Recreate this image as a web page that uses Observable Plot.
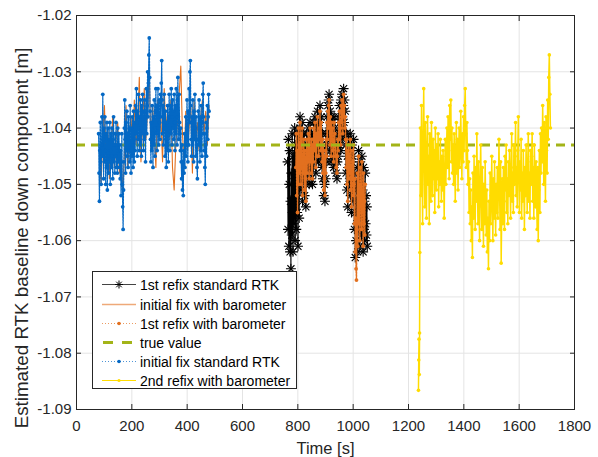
<!DOCTYPE html>
<html><head><meta charset="utf-8">
<script src="https://cdn.jsdelivr.net/npm/d3@7"></script>
<script src="https://cdn.jsdelivr.net/npm/@observablehq/plot@0.6"></script>
<style>
body{margin:0;background:#fff;}
#wrap{position:relative;width:598px;height:457px;font-family:"Liberation Sans",Arial,Helvetica,sans-serif;overflow:hidden;}
#legend{position:absolute;left:92px;top:271px;width:205px;height:118px;background:#fff;border:1px solid #262626;box-sizing:border-box;}
.row{position:absolute;left:0;height:19px;display:flex;align-items:center;}
.row svg{margin-left:9px;}
.row span{margin-left:3px;font-size:14px;color:#000;white-space:nowrap;}
#ylabel{position:absolute;left:22px;top:238px;transform:translate(-50%,-50%) rotate(-90deg);white-space:nowrap;font-size:18.8px;line-height:1;color:#262626;}
</style></head>
<body><div id="wrap"><div id="chart"></div><div id="legend"></div><div id="ylabel"></div></div>
<script>
// ---- data ----
const xTicks = [0, 200, 400, 600, 800, 1000, 1200, 1400, 1600, 1800];
const yTicks = [-1.09, -1.08, -1.07, -1.06, -1.05, -1.04, -1.03, -1.02];
const trueValue = -1.043;
const xLabel = "Time [s]";
const yLabel = "Estimated RTK baseline down component [m]";

// 1st refix standard RTK (start 763 s, every 1.5 s)
const refix1RtkStart = 763, refix1RtkStep = 1.5;
const refix1Rtk = [
 -1.046,-1.058,-1.042,-1.061,-1.050,-1.044,-1.062,-1.053,-1.065,-1.048,
 -1.059,-1.041,-1.055,-1.062,-1.045,-1.057,-1.049,-1.040,-1.060,-1.052,
 -1.043,-1.058,-1.047,-1.055,-1.041,-1.061,-1.050,-1.044,-1.056,-1.040,
 -1.038,-1.045,-1.051,-1.042,-1.048,-1.039,-1.053,-1.044,-1.049,-1.041,
 -1.046,-1.052,-1.043,-1.050,-1.054,-1.045,-1.041,-1.049,-1.043,-1.047,
 -1.040,-1.046,-1.050,-1.042,-1.039,-1.047,-1.043,-1.049,-1.041,-1.045,
 -1.050,-1.042,-1.047,-1.039,-1.045,-1.041,-1.038,-1.044,-1.048,-1.040,
 -1.046,-1.042,-1.037,-1.044,-1.040,-1.046,-1.039,-1.043,-1.036,-1.041,
 -1.045,-1.038,-1.043,-1.047,-1.041,-1.049,-1.044,-1.052,-1.046,-1.050,
 -1.053,-1.045,-1.049,-1.041,-1.046,-1.038,-1.043,-1.036,-1.041,-1.035,
 -1.034,-1.040,-1.044,-1.037,-1.042,-1.046,-1.038,-1.043,-1.039,-1.045,
 -1.041,-1.047,-1.038,-1.044,-1.040,-1.046,-1.042,-1.048,-1.044,-1.049,
 -1.046,-1.041,-1.045,-1.038,-1.043,-1.036,-1.041,-1.039,-1.044,-1.035,
 -1.040,-1.034,-1.038,-1.042,-1.036,-1.033,-1.039,-1.035,-1.041,-1.037,
 -1.043,-1.048,-1.041,-1.051,-1.045,-1.054,-1.047,-1.042,-1.050,-1.044,
 -1.049,-1.041,-1.052,-1.046,-1.055,-1.043,-1.050,-1.045,-1.053,-1.042,
 -1.051,-1.058,-1.048,-1.063,-1.055,-1.060,-1.050,-1.057,-1.047,-1.062,
 -1.053,-1.044,-1.058,-1.049,-1.061,-1.046,-1.055,-1.050,-1.059,-1.045,
 -1.056,-1.051,-1.062,-1.047,-1.058,-1.053,-1.060,-1.048,-1.057,-1.052,
 -1.059,-1.054,-1.061];

// initial fix with barometer (start 83 s, every 6 s)
const initBaroStart = 83, initBaroStep = 6;
const initBaro = [
 -1.044,-1.050,-1.041,-1.036,-1.046,-1.040,-1.049,-1.043,-1.038,-1.047,
 -1.042,-1.039,-1.048,-1.044,-1.052,-1.045,-1.036,-1.047,-1.041,-1.038,
 -1.044,-1.035,-1.043,-1.040,-1.031,-1.046,-1.039,-1.033,-1.042,-1.037,
 -1.030,-1.044,-1.036,-1.041,-1.047,-1.035,-1.042,-1.038,-1.046,-1.033,
 -1.040,-1.037,-1.042,-1.035,-1.047,-1.051,-1.043,-1.039,-1.034,-1.029,
 -1.041,-1.046,-1.037,-1.044,-1.040,-1.036,-1.048,-1.035,-1.042,-1.039,
 -1.044,-1.038,-1.035,-1.041,-1.037,-1.043,-1.036];

// 1st refix with barometer (start 793 s, every 1.5 s)
const refix1BaroStart = 793, refix1BaroStep = 1.5;
const refix1Baro = [
 -1.047,-1.041,-1.052,-1.044,-1.055,-1.046,-1.040,-1.050,-1.043,-1.048,
 -1.039,-1.044,-1.050,-1.041,-1.047,-1.040,-1.052,-1.045,-1.048,-1.042,
 -1.047,-1.051,-1.044,-1.049,-1.053,-1.046,-1.042,-1.048,-1.044,-1.046,
 -1.041,-1.045,-1.049,-1.043,-1.040,-1.046,-1.044,-1.048,-1.042,-1.044,
 -1.049,-1.043,-1.046,-1.040,-1.044,-1.042,-1.039,-1.043,-1.047,-1.041,
 -1.045,-1.041,-1.038,-1.043,-1.041,-1.045,-1.040,-1.042,-1.037,-1.040,
 -1.044,-1.039,-1.042,-1.046,-1.042,-1.048,-1.043,-1.051,-1.045,-1.049,
 -1.052,-1.044,-1.048,-1.042,-1.045,-1.039,-1.042,-1.037,-1.040,-1.036,
 -1.035,-1.039,-1.043,-1.038,-1.041,-1.045,-1.039,-1.042,-1.040,-1.044,
 -1.042,-1.046,-1.039,-1.043,-1.041,-1.045,-1.043,-1.047,-1.045,-1.048,
 -1.045,-1.042,-1.044,-1.039,-1.042,-1.037,-1.040,-1.040,-1.043,-1.036,
 -1.039,-1.035,-1.037,-1.041,-1.037,-1.034,-1.038,-1.036,-1.040,-1.038,
 -1.042,-1.047,-1.042,-1.050,-1.044,-1.053,-1.046,-1.043,-1.049,-1.045,
 -1.048,-1.042,-1.051,-1.047,-1.054,-1.044,-1.049,-1.046,-1.052,-1.043,
 -1.050,-1.057,-1.049,-1.062,-1.056,-1.065,-1.067,-1.058,-1.048,-1.061,
 -1.052,-1.045,-1.057,-1.050,-1.060,-1.047,-1.054,-1.051,-1.058,-1.046,
 -1.055,-1.052,-1.061,-1.048,-1.057,-1.053,-1.059,-1.050];

// initial fix standard RTK (start 80 s, every 1.5 s)
const initRtkStart = 80, initRtkStep = 1.5;
const initRtk = [
 -1.041,-1.048,-1.053,-1.044,-1.039,-1.046,-1.050,-1.043,-1.038,-1.045,
 -1.034,-1.042,-1.049,-1.040,-1.046,-1.038,-1.044,-1.050,-1.041,-1.047,
 -1.039,-1.051,-1.045,-1.040,-1.048,-1.042,-1.046,-1.039,-1.050,-1.044,
 -1.041,-1.047,-1.040,-1.045,-1.049,-1.042,-1.038,-1.046,-1.043,-1.048,
 -1.041,-1.045,-1.039,-1.047,-1.043,-1.048,-1.040,-1.044,-1.046,-1.041,
 -1.047,-1.043,-1.049,-1.044,-1.052,-1.046,-1.041,-1.050,-1.054,-1.058,
 -1.051,-1.046,-1.040,-1.035,-1.042,-1.048,-1.039,-1.044,-1.037,-1.045,
 -1.041,-1.047,-1.038,-1.044,-1.040,-1.046,-1.036,-1.043,-1.048,-1.040,
 -1.045,-1.038,-1.043,-1.047,-1.037,-1.042,-1.046,-1.039,-1.044,-1.036,
 -1.041,-1.033,-1.039,-1.045,-1.037,-1.042,-1.034,-1.040,-1.044,-1.038,
 -1.043,-1.035,-1.040,-1.045,-1.036,-1.041,-1.034,-1.039,-1.044,-1.037,
 -1.042,-1.035,-1.040,-1.046,-1.038,-1.033,-1.041,-1.036,-1.030,-1.038,
 -1.032,-1.027,-1.024,-1.031,-1.037,-1.042,-1.046,-1.039,-1.044,-1.036,
 -1.041,-1.047,-1.038,-1.043,-1.035,-1.040,-1.045,-1.037,-1.033,-1.041,
 -1.036,-1.044,-1.038,-1.033,-1.040,-1.043,-1.035,-1.039,-1.042,-1.034,
 -1.038,-1.032,-1.028,-1.035,-1.041,-1.036,-1.043,-1.038,-1.034,-1.040,
 -1.045,-1.037,-1.042,-1.047,-1.039,-1.044,-1.036,-1.041,-1.046,-1.038,
 -1.034,-1.040,-1.044,-1.036,-1.041,-1.033,-1.038,-1.043,-1.035,-1.040,
 -1.037,-1.042,-1.034,-1.039,-1.044,-1.036,-1.041,-1.033,-1.038,-1.043,
 -1.035,-1.031,-1.038,-1.042,-1.034,-1.039,-1.041,-1.044,-1.040,-1.046,
 -1.049,-1.043,-1.051,-1.046,-1.052,-1.044,-1.048,-1.041,-1.047,-1.043,
 -1.038,-1.045,-1.040,-1.035,-1.042,-1.046,-1.037,-1.043,-1.033,-1.039,
 -1.030,-1.028,-1.036,-1.042,-1.045,-1.038,-1.043,-1.035,-1.040,-1.046,
 -1.037,-1.042,-1.034,-1.040,-1.045,-1.038,-1.043,-1.047,-1.049,-1.042,
 -1.037,-1.043,-1.035,-1.040,-1.046,-1.038,-1.044,-1.036,-1.041,-1.045,
 -1.039,-1.034,-1.032,-1.038,-1.044,-1.041,-1.047,-1.050,-1.043,-1.039,
 -1.045,-1.040,-1.036,-1.042,-1.038,-1.034,-1.037];

// 2nd refix with barometer: first samples (explicit times) then every 2 s from 1243 s
const refix2BaroFirstT = [1236, 1237, 1238, 1239, 1240, 1241];
const refix2BaroFirst = [-1.0866, -1.0812, -1.0775, -1.0838, -1.0764, -1.0621];
const refix2BaroStart = 1243, refix2BaroStep = 2;
const refix2Baro = [
 -1.040,-1.052,-1.036,-1.047,-1.057,-1.042,-1.033,-1.045,-1.054,-1.039,
 -1.048,-1.056,-1.043,-1.038,-1.050,-1.045,-1.057,-1.041,-1.047,-1.053,
 -1.039,-1.046,-1.052,-1.042,-1.049,-1.044,-1.055,-1.040,-1.047,-1.051,
 -1.043,-1.049,-1.041,-1.054,-1.046,-1.050,-1.042,-1.048,-1.053,-1.045,
 -1.051,-1.044,-1.049,-1.056,-1.047,-1.042,-1.050,-1.045,-1.040,-1.047,
 -1.038,-1.044,-1.049,-1.036,-1.042,-1.035,-1.046,-1.040,-1.048,-1.043,
 -1.050,-1.041,-1.046,-1.053,-1.044,-1.039,-1.048,-1.042,-1.051,-1.045,
 -1.040,-1.047,-1.043,-1.037,-1.045,-1.049,-1.041,-1.046,-1.038,-1.044,
 -1.036,-1.033,-1.041,-1.047,-1.039,-1.044,-1.050,-1.046,-1.055,-1.049,
 -1.057,-1.051,-1.060,-1.054,-1.063,-1.048,-1.056,-1.045,-1.052,-1.058,
 -1.047,-1.053,-1.041,-1.050,-1.057,-1.046,-1.054,-1.060,-1.049,-1.043,
 -1.052,-1.058,-1.047,-1.055,-1.061,-1.050,-1.057,-1.046,-1.053,-1.059,
 -1.051,-1.062,-1.056,-1.065,-1.053,-1.060,-1.048,-1.057,-1.052,-1.045,
 -1.054,-1.060,-1.049,-1.056,-1.046,-1.053,-1.059,-1.050,-1.055,-1.047,
 -1.056,-1.051,-1.042,-1.050,-1.058,-1.046,-1.064,-1.055,-1.049,-1.057,
 -1.047,-1.053,-1.058,-1.045,-1.051,-1.043,-1.055,-1.049,-1.057,-1.046,
 -1.052,-1.044,-1.050,-1.056,-1.047,-1.041,-1.053,-1.048,-1.055,-1.043,
 -1.050,-1.045,-1.039,-1.052,-1.047,-1.054,-1.044,-1.038,-1.049,-1.055,
 -1.046,-1.051,-1.042,-1.056,-1.048,-1.053,-1.044,-1.050,-1.058,-1.047,
 -1.052,-1.043,-1.049,-1.055,-1.046,-1.041,-1.053,-1.048,-1.056,-1.044,
 -1.050,-1.045,-1.041,-1.053,-1.047,-1.056,-1.043,-1.049,-1.054,-1.046,
 -1.052,-1.058,-1.047,-1.060,-1.051,-1.044,-1.055,-1.041,-1.048,-1.040,
 -1.046,-1.036,-1.043,-1.050,-1.039,-1.045,-1.053,-1.038,-1.044,-1.048,
 -1.035,-1.042,-1.031,-1.027,-1.034,-1.040];

// ---- build tables ----
const sampled = (start, step, vals) => vals.map((v, i) => ({t: start + i * step, v}));
const dRefix1Rtk = sampled(refix1RtkStart, refix1RtkStep, refix1Rtk);
const dInitBaro = sampled(initBaroStart, initBaroStep, initBaro);
const dRefix1Baro = sampled(refix1BaroStart, refix1BaroStep, refix1Baro);
const dInitRtk = sampled(initRtkStart, initRtkStep, initRtk);
const dRefix2Baro = refix2BaroFirstT.map((t, i) => ({t, v: refix2BaroFirst[i]}))
  .concat(sampled(refix2BaroStart, refix2BaroStep, refix2Baro));

const BLACK = "#000000", ORANGE = "#E2701F", GREEN = "#A3B418", BLUE = "#0468C4", YELLOW = "#FFDC00";
const AX = "#262626", GRID = "#e4e4e4";
const FONT = "Liberation Sans, Arial, Helvetica, sans-serif";
const fmt = d => d.toFixed(2);

const chart = Plot.plot({
  width: 598, height: 457,
  marginLeft: 76, marginRight: 24, marginTop: 15, marginBottom: 48,
  style: {fontFamily: FONT, background: "#fff"},
  x: {domain: [0, 1800]},
  y: {domain: [-1.09, -1.02]},
  marks: [
    Plot.gridX(xTicks, {stroke: GRID, strokeOpacity: 1}),
    Plot.gridY(yTicks, {stroke: GRID, strokeOpacity: 1}),
    Plot.line(dRefix1Rtk, {x: "t", y: "v", stroke: BLACK, strokeWidth: 1.1}),
    Plot.dot(dRefix1Rtk, {x: "t", y: "v", symbol: "plus", r: 3.3, stroke: BLACK, strokeWidth: 1.1}),
    Plot.dot(dRefix1Rtk, {x: "t", y: "v", symbol: "times", r: 3.3, stroke: BLACK, strokeWidth: 1.1}),
    Plot.line(dInitBaro, {x: "t", y: "v", stroke: ORANGE, strokeWidth: 1.1}),
    Plot.line(dRefix1Baro, {x: "t", y: "v", stroke: ORANGE, strokeWidth: 1.4, strokeDasharray: "2,1"}),
    Plot.dot(dRefix1Baro, {x: "t", y: "v", fill: ORANGE, r: 1.9}),
    Plot.ruleY([trueValue], {stroke: GREEN, strokeWidth: 3, strokeDasharray: "9,6"}),
    Plot.line(dInitRtk, {x: "t", y: "v", stroke: BLUE, strokeWidth: 1.2, strokeDasharray: "2,1"}),
    Plot.dot(dInitRtk, {x: "t", y: "v", fill: BLUE, r: 1.9}),
    Plot.line(dRefix2Baro, {x: "t", y: "v", stroke: YELLOW, strokeWidth: 1.5}),
    Plot.dot(dRefix2Baro, {x: "t", y: "v", fill: YELLOW, r: 1.8}),
    Plot.frame({stroke: AX, strokeWidth: 1}),
    Plot.axisX(xTicks, {anchor: "bottom", tickSize: 0, tickPadding: 11, fontSize: 15, fill: AX, label: null, tickFormat: d => String(d)}),
    Plot.axisX(xTicks, {anchor: "bottom", tickSize: -5, stroke: AX, tickFormat: () => "", label: null}),
    Plot.axisX(xTicks, {anchor: "top", tickSize: -5, stroke: AX, tickFormat: () => "", label: null}),
    Plot.axisY(yTicks, {anchor: "left", tickSize: 0, tickPadding: 5, fontSize: 15, fill: AX, label: null, tickFormat: fmt}),
    Plot.axisY(yTicks, {anchor: "left", tickSize: -5, stroke: AX, tickFormat: () => "", label: null}),
    Plot.axisY(yTicks, {anchor: "right", tickSize: -5, stroke: AX, tickFormat: () => "", label: null}),
    Plot.text([xLabel], {frameAnchor: "bottom", text: d => d, dy: 39, lineAnchor: "middle", fontSize: 16.5, fill: AX})
  ]
});
document.getElementById("chart").appendChild(chart);
document.getElementById("ylabel").textContent = yLabel;

// ---- legend ----
const legendNames = ["1st refix standard RTK", "initial fix with barometer", "1st refix with barometer",
  "true value", "initial fix standard RTK", "2nd refix with barometer"];
const legendRowTops = [3, 23, 42, 61, 80, 99];
const swatches = [
  `<line x1="0" y1="9.5" x2="34" y2="9.5" stroke="#444" stroke-width="1"/>
   <path d="M17 5.5V13.5M13 9.5H21M14.2 6.7L19.8 12.3M19.8 6.7L14.2 12.3" stroke="#000" stroke-width="1"/>`,
  `<line x1="0" y1="9.5" x2="34" y2="9.5" stroke="${ORANGE}" stroke-opacity="0.6" stroke-width="1.3"/>`,
  `<line x1="0" y1="9.5" x2="34" y2="9.5" stroke="${ORANGE}" stroke-opacity="0.7" stroke-width="1" stroke-dasharray="1,2"/>
   <circle cx="17" cy="9.5" r="1.8" fill="${ORANGE}"/>`,
  `<line x1="1" y1="9.5" x2="34" y2="9.5" stroke="${GREEN}" stroke-width="3" stroke-dasharray="10,9"/>`,
  `<line x1="0" y1="9.5" x2="34" y2="9.5" stroke="${BLUE}" stroke-opacity="0.7" stroke-width="1" stroke-dasharray="1,2"/>
   <circle cx="17" cy="9.5" r="1.8" fill="${BLUE}"/>`,
  `<line x1="0" y1="9.5" x2="34" y2="9.5" stroke="${YELLOW}" stroke-width="1.2"/>
   <circle cx="17" cy="9.5" r="1.6" fill="${YELLOW}"/>`
];
const legend = document.getElementById("legend");
legendNames.forEach((name, i) => {
  const row = document.createElement("div");
  row.className = "row";
  row.style.top = legendRowTops[i] + "px";
  row.innerHTML = `<svg width="35" height="19">${swatches[i]}</svg><span>${name}</span>`;
  legend.appendChild(row);
});
</script>
</body></html>
